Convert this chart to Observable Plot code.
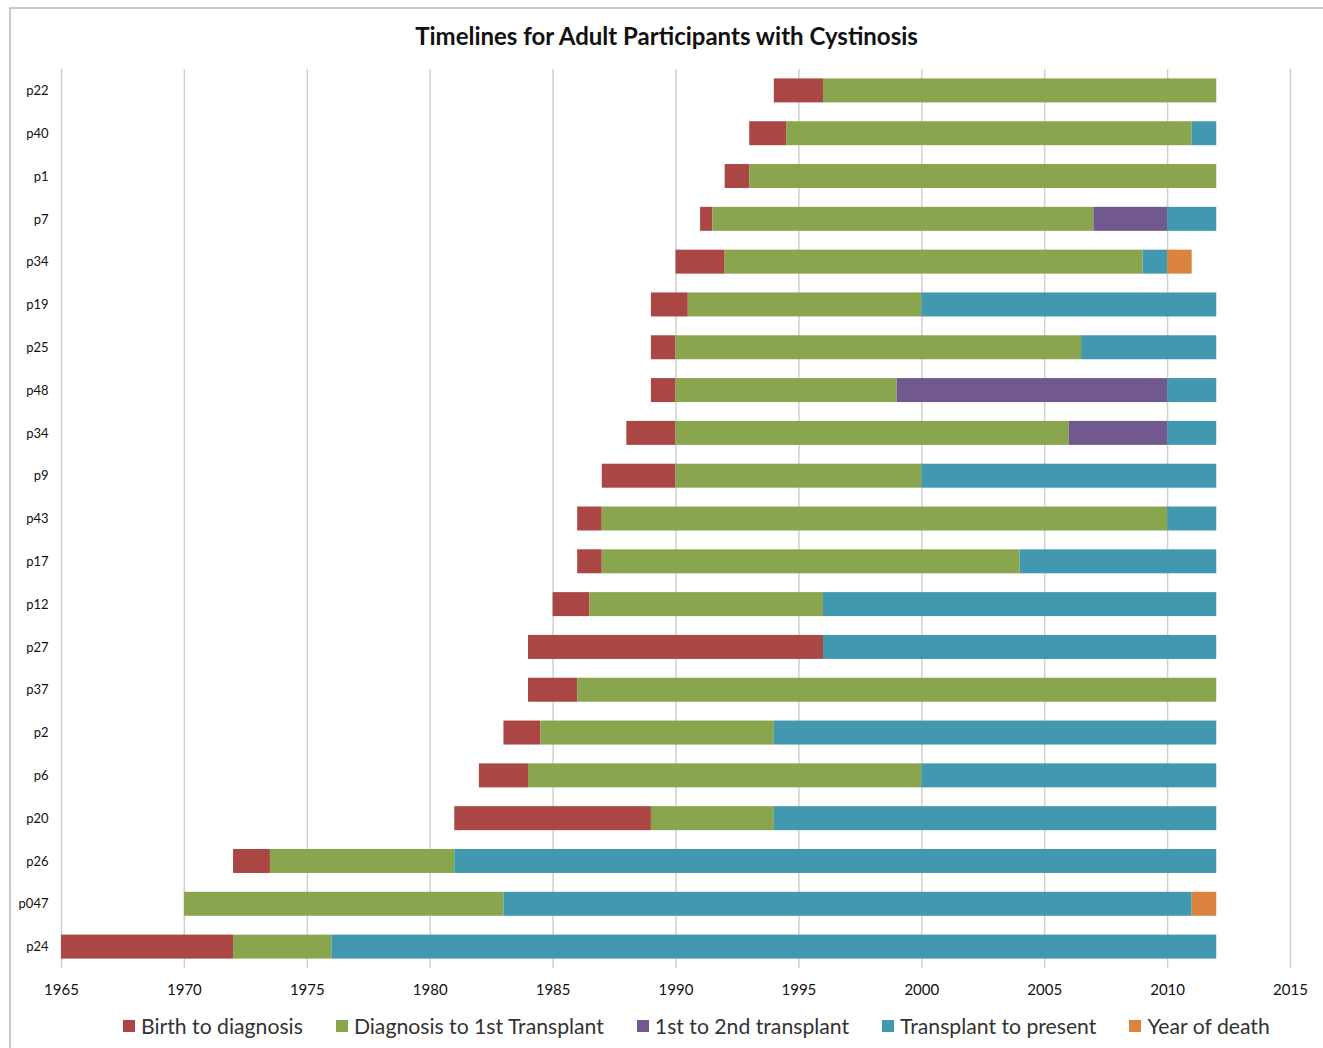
<!DOCTYPE html>
<html>
<head>
<meta charset="utf-8">
<script src="https://cdn.jsdelivr.net/npm/d3@7"></script>
<script src="https://cdn.jsdelivr.net/npm/@observablehq/plot@0.6"></script>
<style>
  html, body { margin: 0; padding: 0; background: #fff; overflow: hidden; }
  body { width: 1323px; height: 1048px; position: relative; font-family: Lato, "Open Sans", sans-serif; }
  #frame { position: absolute; left: 9px; top: 7px; width: 1340px; height: 1080px; border: 2px solid #c9c9c9; box-sizing: border-box; }
  #title { position: absolute; left: 0; width: 1333px; top: 21px; text-align: center; font-weight: bold; font-size: 24px; color: #111; }
  #chart { position: absolute; left: 0; top: 60px; }
  #legend { position: absolute; left: 123px; top: 1013px; display: flex; align-items: center; font-size: 21.2px; color: #333; white-space: nowrap; }
  .item { display: flex; align-items: center; margin-right: 33px; }
  .sw { width: 12px; height: 12px; margin-right: 6px; }
</style>
</head>
<body>
<div id="frame"></div>
<div id="title">Timelines for Adult Participants with Cystinosis</div>
<div id="chart"></div>
<div id="legend"></div>
<script>
const participants = ["p22","p40","p1","p7","p34","p19","p25","p48","p34","p9","p43","p17","p12","p27","p37","p2","p6","p20","p26","p047","p24"];
const birthYear =            [1994,1993,1992,1991,1990,1989,1989,1989,1988,1987,1986,1986,1985,1984,1984,1983,1982,1981,1972,1970,1965];
const birthToDiagnosis =     [2,   1.5, 1,   0.5, 2,   1.5, 1,   1,   2,   3,   1,   1,   1.5, 12,  2,   1.5, 2,   8,   1.5, 0,   7];
const diagnosisToTransplant = [16, 16.5,19,  15.5,17,  9.5, 16.5,9,   16,  10,  23,  17,  9.5, 0,   26,  9.5, 16,  5,   7.5, 13,  4];
const firstToSecond =        [0,   0,   0,   3,   0,   0,   0,   11,  4,   0,   0,   0,   0,   0,   0,   0,   0,   0,   0,   0,   0];
const transplantToPresent =  [0,   1,   0,   2,   1,   12,  5.5, 2,   2,   12,  2,   8,   16,  16,  0,   18,  12,  18,  31,  28,  36];
const yearOfDeath =          [0,   0,   0,   0,   1,   0,   0,   0,   0,   0,   0,   0,   0,   0,   0,   0,   0,   0,   0,   1,   0];

const seriesNames = ["Birth to diagnosis","Diagnosis to 1st Transplant","1st to 2nd transplant","Transplant to present","Year of death"];
const seriesColors = ["#AA4643","#89A54E","#71588F","#4198AF","#DB843D"];
const seriesValues = [birthToDiagnosis, diagnosisToTransplant, firstToSecond, transplantToPresent, yearOfDeath];
const xTicks = [1965,1970,1975,1980,1985,1990,1995,2000,2005,2010,2015];

const rows = [];
participants.forEach((p, i) => {
  let x = birthYear[i];
  seriesValues.forEach((vals, s) => {
    const v = vals[i];
    if (v > 0) rows.push({row: String(i), series: seriesNames[s], x1: x, x2: x + v});
    x += v;
  });
});

const chart = Plot.plot({
  width: 1323,
  height: 960,
  marginLeft: 61,
  marginRight: 33,
  marginTop: 9,
  marginBottom: 52,
  style: {fontFamily: "Lato, 'Open Sans', sans-serif", fontSize: "12px", color: "#111", background: "transparent"},
  x: {domain: [1965, 2015], ticks: xTicks, tickFormat: d => String(d), label: null},
  y: {domain: participants.map((_, i) => String(i)), paddingInner: 0.44, paddingOuter: 0.22, round: false, label: null},
  color: {domain: seriesNames, range: seriesColors},
  marks: [
    Plot.ruleX(xTicks, {stroke: "#d0d0d0", strokeWidth: 1.5}),
    Plot.barX(rows, {y: "row", x1: "x1", x2: "x2", fill: "series"}),
    Plot.axisX({ticks: xTicks, tickSize: 0, tickPadding: 16, fontSize: 15, tickFormat: d => String(d), label: null}),
    Plot.axisY({tickSize: 0, tickPadding: 13, fontSize: 13, tickFormat: i => participants[+i], label: null})
  ]
});
document.getElementById("chart").appendChild(chart);

const legend = document.getElementById("legend");
seriesNames.forEach((name, s) => {
  const item = document.createElement("div");
  item.className = "item";
  const sw = document.createElement("div");
  sw.className = "sw";
  sw.style.background = seriesColors[s];
  const t = document.createElement("span");
  t.textContent = name;
  item.appendChild(sw);
  item.appendChild(t);
  legend.appendChild(item);
});
</script>
</body>
</html>
